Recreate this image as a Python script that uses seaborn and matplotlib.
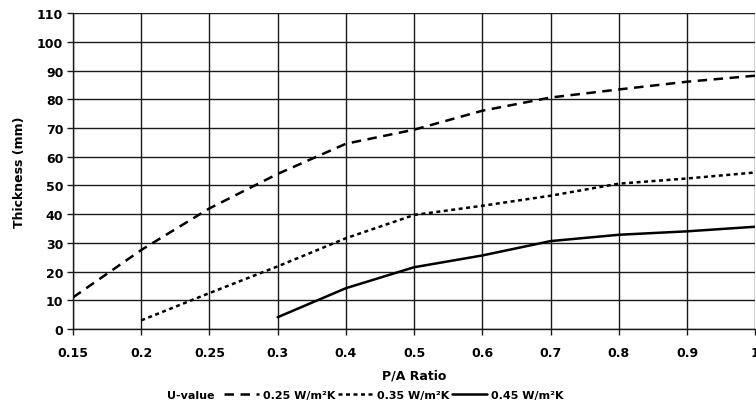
import numpy as np
import pandas as pd
import matplotlib
matplotlib.use("Agg")
import matplotlib.pyplot as plt
import seaborn as sns
from matplotlib.lines import Line2D

# ---- data ----
ratio_labels = ["0.15", "0.2", "0.25", "0.3", "0.4", "0.5", "0.6", "0.7", "0.8", "0.9", "1"]
u025 = [11, 27.5, 42, 54, 64.5, 69.4, 76, 80.6, 83.4, 86.1, 88.2]
u035 = [None, 3, 12.5, 21.8, 31.6, 39.7, 42.9, 46.4, 50.6, 52.4, 54.5]
u045 = [None, None, None, 4.1, 14.2, 21.5, 25.6, 30.6, 32.8, 34.0, 35.6]
series_labels = ["0.25 W/m²K", "0.35 W/m²K", "0.45 W/m²K"]
y_ticks = [0, 10, 20, 30, 40, 50, 60, 70, 80, 90, 100, 110]

sns.set_theme(style="white")
plt.rcParams['font.family'] = ['DejaVu Sans']
plt.rcParams['font.weight'] = 'bold'
plt.rcParams['text.color'] = 'black'
plt.rcParams['axes.labelcolor'] = 'black'

fig = plt.figure(figsize=(7.56, 4.14), dpi=100)
ax = fig.add_axes([0.0966, 0.203, 0.9025, 0.763])

pos = np.arange(len(ratio_labels))
styles = [(0, (3.8, 2.6)), (0, (1.6, 1.4)), "-"]
handles = []
for vals, lab, ls in zip([u025, u035, u045], series_labels, styles):
    df = pd.DataFrame({"pos": pos, "t": pd.array(vals, dtype="Float64").astype(float)}).dropna()
    sns.lineplot(data=df, x="pos", y="t", ax=ax, color="black", linewidth=1.8,
                 linestyle=ls, legend=False)
    handles.append(Line2D([], [], color="black", linewidth=1.8, linestyle=ls, label=lab))

ax.set_xlim(pos[0], pos[-1])
ax.set_ylim(0, 110)
ax.set_xticks(pos)
ax.set_xticklabels(ratio_labels, fontsize=9, fontweight="bold")
ax.set_yticks(y_ticks)
ax.set_yticklabels([str(v) for v in y_ticks], fontsize=9, fontweight="bold")
ax.grid(True, color="#1a1a1a", linewidth=1.0)
ax.set_axisbelow(True)
for s in ["top", "right"]:
    ax.spines[s].set_visible(False)
for s in ["left", "bottom"]:
    ax.spines[s].set_color("#1a1a1a")
    ax.spines[s].set_linewidth(1.0)
ax.tick_params(axis="both", which="both", length=4, width=1, color="#1a1a1a",
               left=True, bottom=True, pad=3, labelcolor="black")
ax.tick_params(axis="x", pad=8)
ax.set_xlabel("P/A Ratio", fontsize=9, fontweight="bold", labelpad=7, color="black")
ax.set_ylabel("Thickness (mm)", fontsize=9, fontweight="bold", labelpad=8, color="black")

fig.text(0.221, 0.043, "U-value", fontsize=8, fontweight="bold", ha="left", va="center",
         color="black")
fig.legend(handles=handles, loc="center left", bbox_to_anchor=(0.296, 0.043), ncol=3,
           frameon=False, handlelength=3.2, handletextpad=0.35,
           columnspacing=0.2, borderaxespad=0, borderpad=0,
           prop={"weight": "bold", "size": 8})

fig.savefig("out.png", dpi=100)
